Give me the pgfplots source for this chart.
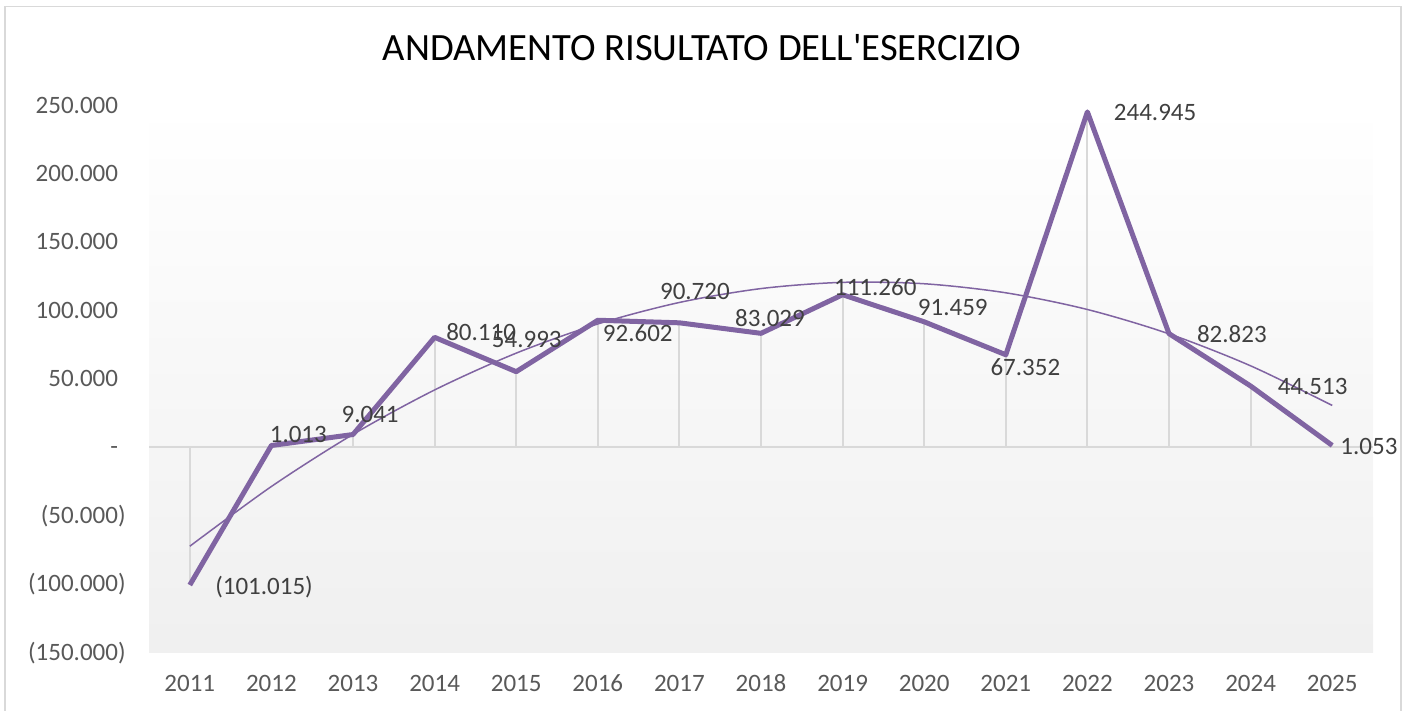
\documentclass[border=0pt]{standalone}
\usepackage{fontspec}
\setmainfont{Carlito}
\newfontfamily\titlefont{Carlito}[Ligatures=TeXOff]
\usepackage{pgfplots}
\pgfplotsset{compat=1.18}

\definecolor{viola}{HTML}{8064A2}
\definecolor{griglia}{HTML}{D9D9D9}
\definecolor{testo}{HTML}{595959}
\definecolor{etich}{HTML}{404040}

\begin{document}
\begin{tikzpicture}
\path[use as bounding box] (0,0) rectangle (703.5pt,-355.5pt);
\draw[griglia, line width=0.8pt] (2.5pt,-3.3pt) rectangle (700.5pt,-370pt);
\node[font=\titlefont\fontsize{19.3}{23}\selectfont, text=black] at (351pt,-24pt) {ANDAMENTO RISULTATO DELL'ESERCIZIO};

\begin{axis}[
  at={(74.5pt,-326pt)}, anchor=south west,
  width=612pt, height=273.5pt, scale only axis,
  xmin=2010.5, xmax=2025.5,
  ymin=-150000, ymax=250000,
  scaled y ticks=false,
  clip=false,
  axis line style={draw=none},
  major tick length=0pt,
  axis background/.style={shade, top color=white, bottom color=gray!12},
  xtick={2011,2012,2013,2014,2015,2016,2017,2018,2019,2020,2021,2022,2023,2024,2025},
  xticklabels={2011,2012,2013,2014,2015,2016,2017,2018,2019,2020,2021,2022,2023,2024,2025},
  ytick={-150000,-100000,-50000,0,50000,100000,150000,200000,250000},
  yticklabels={(150.000),(100.000),(50.000),-\phantom{)},50.000\phantom{)},100.000\phantom{)},150.000\phantom{)},200.000\phantom{)},250.000\phantom{)}},
  tick label style={font=\fontsize{12.5}{15}\selectfont, text=testo, inner sep=0pt},
  xticklabel style={anchor=base, yshift=-19.5pt},
  yticklabel style={anchor=base east, xshift=-11.5pt, yshift=-4pt},
]
% linee di proiezione
\addplot[griglia, line width=1pt, ycomb, no marks] coordinates {
  (2011,-101015) (2012,1013) (2013,9041) (2014,80110) (2015,54993)
  (2016,92602) (2017,90720) (2018,83029) (2019,111260) (2020,91459)
  (2021,67352) (2022,244945) (2023,82823) (2024,44513) (2025,1053)
};
\draw[griglia, line width=1pt] (axis cs:2010.5,0) -- (axis cs:2025.5,0);

% risultato
\addplot[viola, line width=2.5pt, no marks, line join=round] coordinates {
  (2011,-101015) (2012,1013) (2013,9041) (2014,80110) (2015,54993)
  (2016,92602) (2017,90720) (2018,83029) (2019,111260) (2020,91459)
  (2021,67352) (2022,244945) (2023,82823) (2024,44513) (2025,1053)
};

% linea di tendenza (polinomiale, 2 grado)
\addplot[viola, line width=0.75pt, no marks, smooth] coordinates {
  (2011,-72653) (2012,-28969) (2013,9125) (2014,41631) (2015,68547)
  (2016,89873) (2017,105610) (2018,115759) (2019,120318) (2020,119289)
  (2021,112669) (2022,100461) (2023,82663) (2024,59277) (2025,30300)
};

% etichette dati
\begin{scope}[every node/.style={font=\fontsize{12.5}{15}\selectfont, text=etich, inner sep=0pt}]
\node at (axis cs:2011.91,-102400) {(101.015)};
\node at (axis cs:2012.33,8800) {1.013};
\node at (axis cs:2013.21,23400) {9.041};
\node at (axis cs:2014.57,83700) {80.110};
\node at (axis cs:2015.13,78200) {54.993};
\node at (axis cs:2016.49,83400) {92.602};
\node at (axis cs:2017.19,113300) {90.720};
\node at (axis cs:2018.11,94300) {83.029};
\node at (axis cs:2019.40,117000) {111.260};
\node at (axis cs:2020.35,101600) {91.459};
\node at (axis cs:2021.24,58500) {67.352};
\node at (axis cs:2022.83,244200) {244.945};
\node at (axis cs:2023.77,82600) {82.823};
\node at (axis cs:2024.76,43900) {44.513};
\node at (axis cs:2025.45,0) {1.053};
\end{scope}
\end{axis}
\end{tikzpicture}
\end{document}
